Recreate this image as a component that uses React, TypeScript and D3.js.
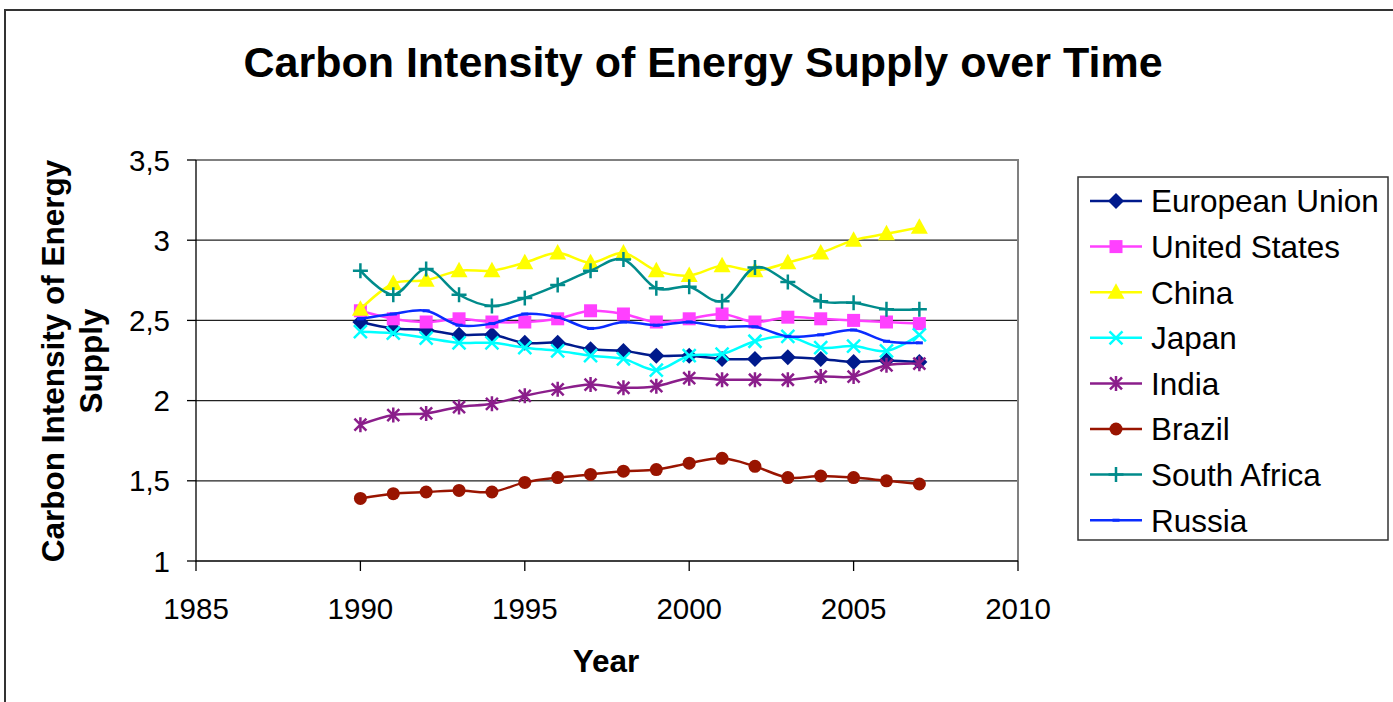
import React, { useRef, useEffect } from 'react';
import { select, scaleLinear, line, curveCardinal } from 'd3';

const W = 1393;
const H = 702;

const years = [1990, 1991, 1992, 1993, 1994, 1995, 1996, 1997, 1998, 1999, 2000, 2001, 2002, 2003, 2004, 2005, 2006, 2007];
const xTicks = [1985, 1990, 1995, 2000, 2005, 2010];
const yTicks = [1, 1.5, 2, 2.5, 3, 3.5];
const yTickLabels = ['1', '1,5', '2', '2,5', '3', '3,5'];

const euValues = [2.49, 2.45, 2.44, 2.41, 2.41, 2.36, 2.36, 2.32, 2.31, 2.28, 2.28, 2.26, 2.26, 2.27, 2.26, 2.24, 2.25, 2.24];
const usValues = [2.56, 2.51, 2.49, 2.51, 2.49, 2.49, 2.51, 2.56, 2.54, 2.49, 2.51, 2.54, 2.49, 2.52, 2.51, 2.50, 2.49, 2.48];
const chinaValues = [2.57, 2.73, 2.75, 2.81, 2.81, 2.86, 2.92, 2.86, 2.92, 2.81, 2.78, 2.84, 2.81, 2.86, 2.92, 3.00, 3.04, 3.08];
const japanValues = [2.43, 2.42, 2.39, 2.36, 2.36, 2.33, 2.31, 2.28, 2.26, 2.19, 2.28, 2.29, 2.37, 2.40, 2.33, 2.34, 2.31, 2.41];
const indiaValues = [1.85, 1.91, 1.92, 1.96, 1.98, 2.03, 2.07, 2.10, 2.08, 2.09, 2.14, 2.13, 2.13, 2.13, 2.15, 2.15, 2.22, 2.23];
const brazilValues = [1.39, 1.42, 1.43, 1.44, 1.43, 1.49, 1.52, 1.54, 1.56, 1.57, 1.61, 1.64, 1.59, 1.52, 1.53, 1.52, 1.50, 1.48];
const southAfricaValues = [2.81, 2.66, 2.82, 2.66, 2.59, 2.64, 2.72, 2.81, 2.88, 2.70, 2.71, 2.62, 2.83, 2.74, 2.62, 2.61, 2.57, 2.57];
const russiaValues = [2.51, 2.54, 2.56, 2.47, 2.48, 2.54, 2.52, 2.45, 2.49, 2.47, 2.49, 2.46, 2.46, 2.40, 2.41, 2.44, 2.37, 2.36];

const series = [
    { name: 'European Union', values: euValues, color: '#001a8c', marker: 'diamond' },
    { name: 'United States', values: usValues, color: '#ff40ff', marker: 'square' },
    { name: 'China', values: chinaValues, color: '#ffff00', marker: 'triangle' },
    { name: 'Japan', values: japanValues, color: '#00ffff', marker: 'x' },
    { name: 'India', values: indiaValues, color: '#8b1e8b', marker: 'star' },
    { name: 'Brazil', values: brazilValues, color: '#991400', marker: 'circle' },
    { name: 'South Africa', values: southAfricaValues, color: '#008b8b', marker: 'plus' },
    { name: 'Russia', values: russiaValues, color: '#0a2cff', marker: 'dash' }
];

const font = 'Liberation Sans, Arial, sans-serif';

// draws one marker centred at (cx, cy)
function drawMarker(g, type, cx, cy, color) {
    if (type === 'diamond') {
        g.append('path').attr('d', `M${cx},${cy - 8}L${cx + 8},${cy}L${cx},${cy + 8}L${cx - 8},${cy}Z`).attr('fill', color);
    } else if (type === 'square') {
        g.append('rect').attr('x', cx - 6.5).attr('y', cy - 6.5).attr('width', 13).attr('height', 13).attr('fill', color);
    } else if (type === 'triangle') {
        g.append('path').attr('d', `M${cx},${cy - 9}L${cx + 8.5},${cy + 6.5}L${cx - 8.5},${cy + 6.5}Z`).attr('fill', color);
    } else if (type === 'x') {
        g.append('path').attr('d', `M${cx - 6.5},${cy - 6.5}L${cx + 6.5},${cy + 6.5}M${cx + 6.5},${cy - 6.5}L${cx - 6.5},${cy + 6.5}`)
            .attr('stroke', color).attr('stroke-width', 2.5);
    } else if (type === 'star') {
        g.append('path').attr('d', `M${cx - 6},${cy - 6}L${cx + 6},${cy + 6}M${cx + 6},${cy - 6}L${cx - 6},${cy + 6}M${cx},${cy - 7.5}L${cx},${cy + 7.5}`)
            .attr('stroke', color).attr('stroke-width', 2.5);
    } else if (type === 'circle') {
        g.append('circle').attr('cx', cx).attr('cy', cy).attr('r', 6.5).attr('fill', color);
    } else if (type === 'plus') {
        g.append('path').attr('d', `M${cx - 7.5},${cy}L${cx + 7.5},${cy}M${cx},${cy - 7.5}L${cx},${cy + 7.5}`)
            .attr('stroke', color).attr('stroke-width', 2.5);
    } else if (type === 'dash') {
        g.append('rect').attr('x', cx - 3.5).attr('y', cy - 1.5).attr('width', 7).attr('height', 3).attr('fill', color);
    }
}

export default function App() {
    const svgRef = useRef(null);

    useEffect(() => {
        const svg = select(svgRef.current);
        svg.selectAll('*').remove();

        const x = scaleLinear().domain([1985, 2010]).range([196, 1018]);
        const y = scaleLinear().domain([1, 3.5]).range([561, 160]);

        svg.append('rect').attr('width', W).attr('height', H).attr('fill', '#fff');

        // outer chart border
        svg.append('rect')
            .attr('x', 5).attr('y', 10).attr('width', W + 20).attr('height', H + 20)
            .attr('fill', 'none').attr('stroke', '#333').attr('stroke-width', 2);

        svg.append('text')
            .attr('x', 703).attr('y', 77)
            .attr('text-anchor', 'middle')
            .style('font-family', font).style('font-size', '43px').style('font-weight', 'bold')
            .text('Carbon Intensity of Energy Supply over Time');

        // gridlines
        svg.append('g').selectAll('line')
            .data(yTicks.slice(1, -1))
            .join('line')
            .attr('x1', x(1985)).attr('x2', x(2010))
            .attr('y1', d => y(d)).attr('y2', d => y(d))
            .attr('stroke', '#222').attr('stroke-width', 1.2);

        // plot area frame (top/right grey)
        svg.append('path')
            .attr('d', `M${x(1985)},${y(3.5)}H${x(2010)}V${y(1)}`)
            .attr('fill', 'none').attr('stroke', '#808080').attr('stroke-width', 2);

        // axes
        svg.append('path')
            .attr('d', `M${x(1985)},${y(3.5)}V${y(1)}H${x(2010)}`)
            .attr('fill', 'none').attr('stroke', '#000').attr('stroke-width', 1.3);

        const yAxis = svg.append('g');
        yAxis.selectAll('line').data(yTicks).join('line')
            .attr('x1', x(1985) - 9).attr('x2', x(1985))
            .attr('y1', d => y(d)).attr('y2', d => y(d))
            .attr('stroke', '#000').attr('stroke-width', 1.3);
        yAxis.selectAll('text').data(yTicks).join('text')
            .attr('x', 170).attr('y', d => y(d)).attr('dy', '0.36em')
            .attr('text-anchor', 'end')
            .style('font-family', font).style('font-size', '29.5px')
            .text((d, i) => yTickLabels[i]);

        const xAxis = svg.append('g');
        xAxis.selectAll('line').data(xTicks).join('line')
            .attr('x1', d => x(d)).attr('x2', d => x(d))
            .attr('y1', y(1)).attr('y2', y(1) + 10)
            .attr('stroke', '#000').attr('stroke-width', 1.3);
        xAxis.selectAll('text').data(xTicks).join('text')
            .attr('x', d => x(d)).attr('y', 619)
            .attr('text-anchor', 'middle')
            .style('font-family', font).style('font-size', '29.5px')
            .text(d => d);

        svg.append('text')
            .attr('x', 606).attr('y', 672)
            .attr('text-anchor', 'middle')
            .style('font-family', font).style('font-size', '31.5px').style('font-weight', 'bold')
            .text('Year');

        const yTitle = svg.append('text')
            .attr('transform', 'translate(64,361) rotate(-90)')
            .attr('text-anchor', 'middle')
            .style('font-family', font).style('font-size', '31.5px').style('font-weight', 'bold');
        yTitle.append('tspan').attr('x', 0).attr('y', 0).text('Carbon Intensity of Energy');
        yTitle.append('tspan').attr('x', 0).attr('y', 38).text('Supply');

        // series
        const drawLine = line()
            .x((d, i) => x(years[i]))
            .y(d => y(d))
            .curve(curveCardinal);

        series.forEach(s => {
            const g = svg.append('g');
            g.append('path')
                .datum(s.values)
                .attr('d', drawLine)
                .attr('fill', 'none')
                .attr('stroke', s.color)
                .attr('stroke-width', 2.5);
            s.values.forEach((v, i) => drawMarker(g, s.marker, x(years[i]), y(v), s.color));
        });

        // legend
        svg.append('rect')
            .attr('x', 1078).attr('y', 177).attr('width', 310).attr('height', 363)
            .attr('fill', '#fff').attr('stroke', '#333').attr('stroke-width', 1.5);

        series.forEach((s, i) => {
            const ly = 201 + i * 45.6;
            const g = svg.append('g');
            g.append('line')
                .attr('x1', 1090).attr('x2', 1142).attr('y1', ly).attr('y2', ly)
                .attr('stroke', s.color).attr('stroke-width', 2.5);
            drawMarker(g, s.marker, 1116, ly, s.color);
            g.append('text')
                .attr('x', 1151).attr('y', ly).attr('dy', '0.36em')
                .style('font-family', font).style('font-size', '31.5px')
                .text(s.name);
        });
    }, []);

    return (
        <svg ref={svgRef} width={W} height={H} style={{ position: 'absolute', left: 0, top: 0, display: 'block' }}></svg>
    );
}
